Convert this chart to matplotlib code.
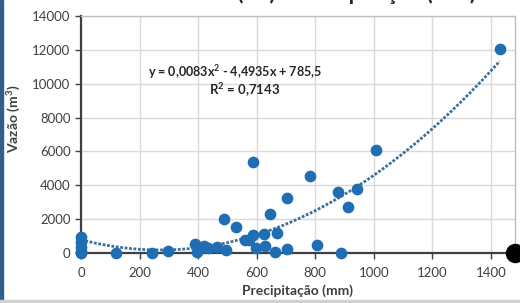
import matplotlib
matplotlib.use('Agg')
from matplotlib import pyplot as plt
from matplotlib.patches import Rectangle
import numpy as np

plt.rcParams['font.family'] = ['Lato', 'DejaVu Sans']
plt.rcParams['mathtext.default'] = 'regular'

# precipitacao (mm) x vazao (m3)
precip = [0, 0, 0, 0, 0, 119, 243, 298, 389, 395, 420, 434, 463, 489, 494,
          528, 560, 574, 586, 586, 597, 625, 628, 645, 664, 670, 705, 705,
          782, 807, 878, 887, 912, 943, 1009, 1430]
vazao = [950, 650, 380, 130, 20, 0, 0, 100, 530, 80, 430, 310, 330, 1990, 180,
         1550, 770, 770, 5390, 1060, 310, 1120, 410, 2300, 40, 1160, 3270, 220,
         4570, 470, 3620, 20, 2740, 3780, 6080, 12050]

# trendline coefficients (poly 2) as shown on chart
coef = [0.0083, -4.4935, 785.5]
eq_text = 'y = 0,0083x$^2$ - 4,4935x + 785,5'
r2_text = 'R$^2$ = 0,7143'

xticks = [0, 200, 400, 600, 800, 1000, 1200, 1400]
yticks = [0, 2000, 4000, 6000, 8000, 10000, 12000, 14000]

fig = plt.figure(figsize=(5.2, 3.03), dpi=100)
ax = fig.add_axes([81/520, 1-253/303, 434/520, 237/303])

xt = np.linspace(min(precip), max(precip), 200)
ax.plot(xt, np.polyval(coef, xt), linestyle=(0, (1, 0.6)), color='#3b6f9c',
        linewidth=2.0, zorder=2)
ax.scatter(precip, vazao, s=55, color='#1f6db3', zorder=3, clip_on=False)

ax.set_xlim(0, 1482)
ax.set_ylim(0, 14000)
ax.set_xticks(xticks)
ax.set_yticks(yticks)
ax.grid(True, color='#d9d9d9', linewidth=1)
ax.set_axisbelow(True)
ax.tick_params(direction='out', length=4, width=1, colors='#404040',
               labelsize=9.5, labelcolor='#404040')
ax.tick_params(axis='x', pad=6)
for s in ['left', 'bottom']:
    ax.spines[s].set_color('#404040')
    ax.spines[s].set_linewidth(1.6)
for s in ['top', 'right']:
    ax.spines[s].set_color('#bfbfbf')
    ax.spines[s].set_linewidth(1)

ax.set_xlabel('Precipitação (mm)', fontsize=10, fontweight='bold', color='#404040', labelpad=4)
ax.set_ylabel('Vazão (m$^3$)', fontsize=10, fontweight='bold', color='#404040')
ax.yaxis.set_label_coords(-0.134, 0.565)

ax.text(0.355, 0.764, eq_text, transform=ax.transAxes, ha='center', va='center',
        fontsize=9, fontweight='bold', color='#262626')
ax.text(0.378, 0.688, r2_text, transform=ax.transAxes, ha='center', va='center',
        fontsize=9.5, fontweight='bold', color='#262626')

# title, mostly cut off by the top edge in the reference
fig.text(0.623, 1-0.5/303, 'Vazão (m³) x Precipitação (mm)', ha='center', va='baseline',
         fontsize=16, fontweight='bold', color='#262626')

# selection handle + frame decorations
ax.plot([1], [0], 'o', transform=ax.transAxes, color='black', markersize=13, clip_on=False, zorder=5)
fig.add_artist(Rectangle((0, 0), 2.5/520, 1, transform=fig.transFigure, color='#2f5f8f'))
fig.add_artist(Rectangle((0, 0), 1, 3/303, transform=fig.transFigure, color='#d0d0d0'))

fig.savefig('out.png', dpi=100)
